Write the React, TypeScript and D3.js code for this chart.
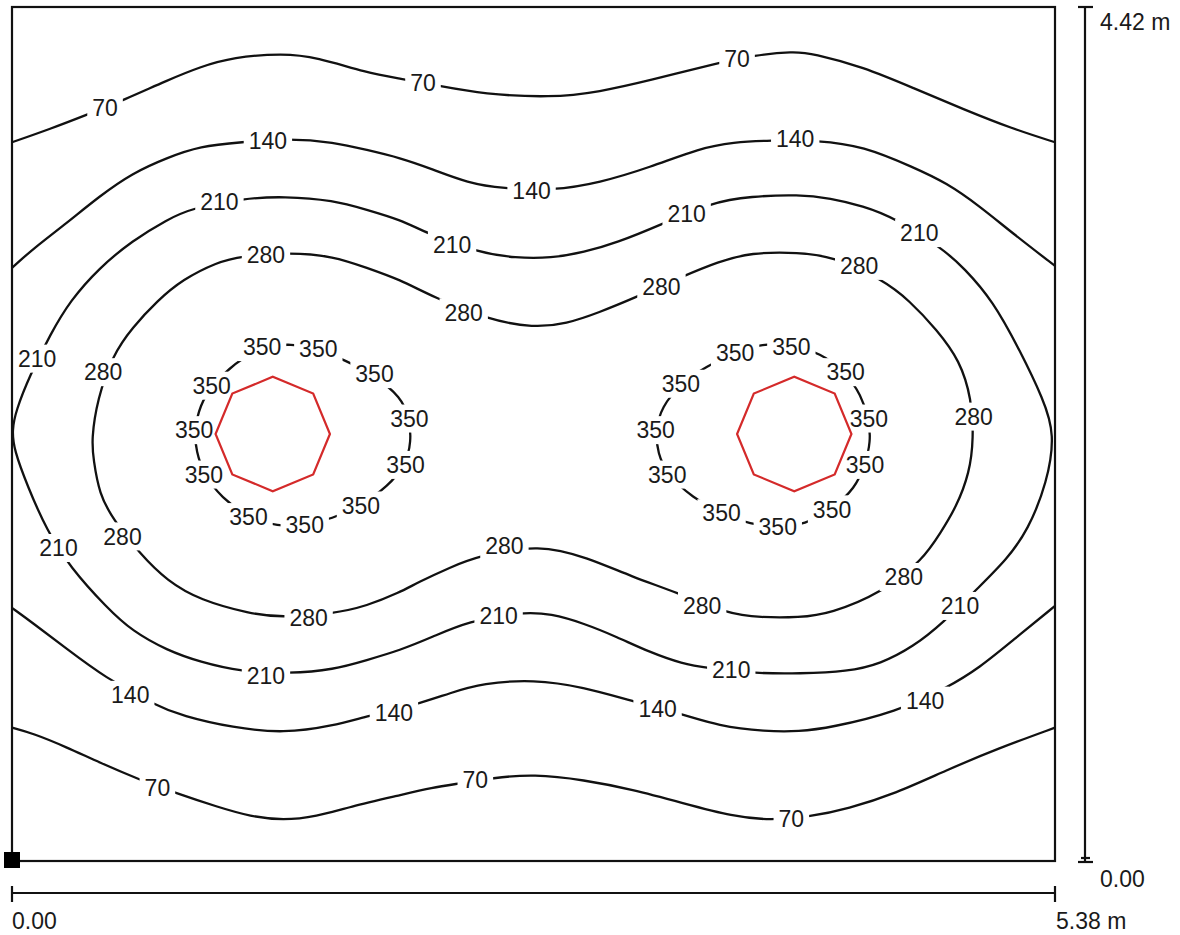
import React from "react";
import * as d3 from "d3";

type Pt = [number, number];

// Room dimensions (m)
const ROOM_WIDTH_M = 5.38;
const ROOM_DEPTH_M = 4.42;
const X_LABELS = ["0.00", "5.38 m"];
const Y_LABELS = ["0.00", "4.42 m"];

// Isolux levels (lx)
const LEVELS = [70, 140, 210, 280, 350];

// Isolines, in metres (x from left wall, y from front wall)
const iso70Top: Pt[] = [
  [0, 3.72], [0.2, 3.79], [0.38, 3.86], [0.58, 3.94], [0.8, 4.04], [0.97, 4.11], [1.14, 4.16],
  [1.4, 4.18], [1.57, 4.16], [1.83, 4.08], [2.0, 4.05], [2.21, 4.01], [2.43, 3.97], [2.78, 3.95],
  [3.03, 3.98], [3.29, 4.04], [3.64, 4.13], [3.83, 4.17], [4.03, 4.19], [4.13, 4.18], [4.39, 4.11],
  [4.65, 4.0], [4.91, 3.89], [5.16, 3.79], [5.38, 3.72],
];
const iso70Bottom: Pt[] = [
  [0, 0.69], [0.11, 0.66], [0.28, 0.59], [0.45, 0.51], [0.66, 0.42], [0.85, 0.35], [1.06, 0.28],
  [1.23, 0.23], [1.4, 0.21], [1.57, 0.23], [1.74, 0.28], [2.0, 0.34], [2.17, 0.38], [2.3, 0.4],
  [2.48, 0.43], [2.69, 0.45], [2.95, 0.42], [3.2, 0.37], [3.46, 0.3], [3.72, 0.23], [3.91, 0.21],
  [4.12, 0.23], [4.31, 0.27], [4.56, 0.35], [4.82, 0.47], [5.08, 0.58], [5.38, 0.69],
];
const iso140Top: Pt[] = [
  [0, 3.07], [0.11, 3.17], [0.28, 3.3], [0.45, 3.44], [0.62, 3.56], [0.8, 3.64], [0.97, 3.7],
  [1.18, 3.72], [1.43, 3.74], [1.66, 3.72], [1.83, 3.68], [2.0, 3.64], [2.17, 3.58], [2.35, 3.51],
  [2.53, 3.48], [2.79, 3.47], [3.03, 3.51], [3.29, 3.59], [3.55, 3.69], [3.72, 3.72], [3.91, 3.73],
  [4.16, 3.73], [4.39, 3.7], [4.65, 3.59], [4.82, 3.51], [4.99, 3.39], [5.16, 3.25], [5.38, 3.08],
];
const iso140Bottom: Pt[] = [
  [0, 1.31], [0.11, 1.23], [0.28, 1.1], [0.48, 0.95], [0.73, 0.81], [0.88, 0.75], [1.14, 0.69],
  [1.4, 0.66], [1.66, 0.7], [1.83, 0.75], [2.09, 0.81], [2.26, 0.87], [2.43, 0.92], [2.69, 0.94],
  [2.95, 0.9], [3.19, 0.83], [3.46, 0.76], [3.64, 0.7], [3.89, 0.67], [4.06, 0.67], [4.22, 0.69],
  [4.56, 0.77], [4.83, 0.9], [4.99, 1.0], [5.16, 1.14], [5.38, 1.32],
];
const iso210: Pt[] = [
  [0, 2.23], [0.02, 2.33], [0.09, 2.51], [0.2, 2.73], [0.3, 2.9], [0.45, 3.07], [0.62, 3.21],
  [0.8, 3.32], [0.93, 3.38], [1.2, 3.43], [1.4, 3.44], [1.66, 3.42], [1.83, 3.37], [2.0, 3.32],
  [2.14, 3.25], [2.4, 3.15], [2.6, 3.12], [2.78, 3.12], [2.95, 3.15], [3.12, 3.2], [3.34, 3.29],
  [3.61, 3.41], [3.81, 3.44], [4.06, 3.45], [4.22, 3.43], [4.39, 3.39], [4.55, 3.33], [4.8, 3.17],
  [4.91, 3.07], [5.06, 2.9], [5.2, 2.64], [5.32, 2.39], [5.38, 2.21], [5.34, 1.96], [5.24, 1.71],
  [5.13, 1.56], [4.99, 1.42], [4.8, 1.23], [4.65, 1.11], [4.48, 1.02], [4.31, 0.98], [4.06, 0.97],
  [3.84, 0.97], [3.58, 1.0], [3.46, 1.02], [3.29, 1.08], [3.12, 1.16], [2.95, 1.23], [2.78, 1.28],
  [2.63, 1.29], [2.35, 1.24], [2.17, 1.16], [2.0, 1.09], [1.83, 1.04], [1.66, 0.99], [1.43, 0.97],
  [1.18, 0.98], [0.97, 1.03], [0.8, 1.09], [0.62, 1.19], [0.49, 1.31], [0.3, 1.52], [0.18, 1.71],
  [0.08, 1.94], [0.01, 2.13],
];
const iso280: Pt[] = [
  [0.41, 2.18], [0.44, 2.39], [0.52, 2.62], [0.62, 2.76], [0.75, 2.9], [0.88, 3.01], [1.06, 3.1],
  [1.18, 3.13], [1.43, 3.15], [1.66, 3.13], [1.83, 3.07], [2.0, 3.01], [2.17, 2.92], [2.46, 2.8],
  [2.69, 2.76], [2.86, 2.78], [3.03, 2.84], [3.2, 2.91], [3.47, 3.03], [3.64, 3.1], [3.81, 3.15],
  [4.06, 3.15], [4.23, 3.13], [4.49, 3.01], [4.63, 2.9], [4.77, 2.75], [4.89, 2.59], [4.95, 2.39],
  [4.96, 2.19], [4.94, 2.01], [4.87, 1.83], [4.79, 1.7], [4.7, 1.56], [4.49, 1.39], [4.22, 1.28],
  [4.06, 1.26], [3.86, 1.26], [3.69, 1.28], [3.43, 1.39], [3.2, 1.47], [2.97, 1.57], [2.72, 1.64],
  [2.41, 1.58], [2.26, 1.52], [2.09, 1.44], [2.0, 1.39], [1.83, 1.32], [1.66, 1.28], [1.38, 1.26],
  [1.23, 1.28], [0.97, 1.35], [0.8, 1.45], [0.66, 1.59], [0.52, 1.77], [0.45, 1.9], [0.42, 2.08],
];
const iso350Left: Pt[] = [
  [0.94, 2.23], [0.97, 2.36], [1.03, 2.46], [1.15, 2.58], [1.29, 2.66], [1.44, 2.68], [1.58, 2.65],
  [1.72, 2.59], [1.86, 2.52], [2.01, 2.4], [2.05, 2.29], [2.06, 2.17], [2.03, 2.05], [1.94, 1.94],
  [1.8, 1.84], [1.65, 1.77], [1.51, 1.74], [1.37, 1.73], [1.22, 1.78], [1.08, 1.88], [0.99, 2.0],
  [0.95, 2.12],
];
const iso350Right: Pt[] = [
  [3.32, 2.23], [3.35, 2.35], [3.45, 2.47], [3.58, 2.56], [3.73, 2.63], [3.87, 2.68], [4.02, 2.67],
  [4.17, 2.63], [4.3, 2.53], [4.38, 2.41], [4.42, 2.29], [4.43, 2.17], [4.4, 2.05], [4.35, 1.93],
  [4.23, 1.82], [4.09, 1.74], [3.95, 1.73], [3.81, 1.74], [3.66, 1.8], [3.51, 1.88], [3.38, 2.0],
  [3.33, 2.11],
];

// Label anchor points (m)
const labels70: Pt[] = [[0.48, 3.9], [2.12, 4.03], [3.74, 4.15], [0.75, 0.38], [2.39, 0.42], [4.02, 0.22]];
const labels140: Pt[] = [[1.32, 3.73], [2.68, 3.47], [4.04, 3.74], [0.61, 0.86], [1.97, 0.77], [3.33, 0.79], [4.71, 0.83]];
const labels210: Pt[] = [
  [1.07, 3.41], [2.27, 3.19], [3.48, 3.35], [4.68, 3.25], [0.13, 2.6], [0.24, 1.62],
  [1.31, 0.96], [2.51, 1.27], [3.71, 0.99], [4.89, 1.32],
];
const labels280: Pt[] = [
  [0.47, 2.53], [1.31, 3.14], [2.33, 2.84], [3.35, 2.97], [4.37, 3.08], [4.96, 2.3],
  [4.6, 1.47], [3.56, 1.32], [2.54, 1.63], [1.53, 1.26], [0.57, 1.68],
];
const labels350: Pt[] = [
  [1.29, 2.66], [1.58, 2.65], [1.87, 2.52], [2.05, 2.29], [2.03, 2.05], [1.8, 1.84],
  [1.51, 1.74], [1.22, 1.78], [0.99, 2.0], [0.94, 2.23], [1.03, 2.46],
  [3.73, 2.63], [4.02, 2.66], [4.3, 2.53], [4.42, 2.29], [4.4, 2.05], [4.23, 1.82],
  [3.95, 1.73], [3.66, 1.8], [3.38, 2.0], [3.32, 2.23], [3.45, 2.47],
];

// Luminaire centres (m)
const LUMINAIRES: Pt[] = [[1.345, 2.21], [4.035, 2.21]];
const LUMINAIRE_RADIUS_M = 0.295;

const ISOLINES: { value: number; closed: boolean; points: Pt[] }[] = [
  { value: LEVELS[0], closed: false, points: iso70Top },
  { value: LEVELS[0], closed: false, points: iso70Bottom },
  { value: LEVELS[1], closed: false, points: iso140Top },
  { value: LEVELS[1], closed: false, points: iso140Bottom },
  { value: LEVELS[2], closed: true, points: iso210 },
  { value: LEVELS[3], closed: true, points: iso280 },
  { value: LEVELS[4], closed: true, points: iso350Left },
  { value: LEVELS[4], closed: true, points: iso350Right },
];

const LABELS: { value: number; points: Pt[] }[] = [
  { value: LEVELS[0], points: labels70 },
  { value: LEVELS[1], points: labels140 },
  { value: LEVELS[2], points: labels210 },
  { value: LEVELS[3], points: labels280 },
  { value: LEVELS[4], points: labels350 },
];

const FONT = "'Liberation Sans', Arial, Helvetica, sans-serif";

export default function App() {
  const W = 1180;
  const H = 935;
  const x = d3.scaleLinear().domain([0, ROOM_WIDTH_M]).range([12, 1055]);
  const y = d3.scaleLinear().domain([0, ROOM_DEPTH_M]).range([861, 7]);

  const openLine = d3
    .line<Pt>()
    .x((d) => x(d[0]))
    .y((d) => y(d[1]))
    .curve(d3.curveBasis);
  const closedLine = d3
    .line<Pt>()
    .x((d) => x(d[0]))
    .y((d) => y(d[1]))
    .curve(d3.curveBasisClosed);

  const fs = 23;
  const digitW = 0.556 * fs;
  const padX = 5;
  const halfH = 14;

  const flatLabels = LABELS.flatMap((g) =>
    g.points.map((p) => ({ value: g.value, px: x(p[0]), py: y(p[1]) }))
  );

  const rPx = x(LUMINAIRE_RADIUS_M) - x(0);
  const octagon = (c: Pt) => {
    const cx = x(c[0]);
    const cy = y(c[1]);
    const pts = d3.range(8).map((k) => {
      const a = (k * Math.PI) / 4;
      return [cx + rPx * Math.cos(a), cy + rPx * Math.sin(a)] as [number, number];
    });
    return "M" + pts.map((p) => p.join(",")).join("L") + "Z";
  };

  const x0 = x(0);
  const x1 = x(ROOM_WIDTH_M);
  const y0 = y(0);
  const y1 = y(ROOM_DEPTH_M);
  const dimY = 893;
  const dimX = 1085;

  return (
    <svg
      width={W}
      height={H}
      viewBox={`0 0 ${W} ${H}`}
      style={{ position: "absolute", left: 0, top: 0, background: "#fff", display: "block" }}
      fontFamily={FONT}
    >
      <defs>
        <mask id="labelMask" maskUnits="userSpaceOnUse" x={0} y={0} width={W} height={H}>
          <rect x={0} y={0} width={W} height={H} fill="#fff" />
          {flatLabels.map((l, i) => {
            const tw = String(l.value).length * digitW;
            return (
              <rect
                key={i}
                x={l.px - tw / 2 - padX}
                y={l.py - halfH}
                width={tw + 2 * padX}
                height={halfH * 2}
                fill="#000"
              />
            );
          })}
        </mask>
      </defs>
      <rect x={0} y={0} width={W} height={H} fill="#fff" />

      {/* room outline */}
      <rect x={x0} y={y1} width={x1 - x0} height={y0 - y1} fill="none" stroke="#111" strokeWidth={2.2} />

      {/* isolines */}
      <g mask="url(#labelMask)" fill="none" stroke="#111" strokeWidth={2.3} strokeLinejoin="round">
        {ISOLINES.map((l, i) => (
          <path key={i} d={(l.closed ? closedLine : openLine)(l.points) || ""} />
        ))}
      </g>

      {/* isoline labels */}
      <g fontSize={fs} fill="#1a1a1a" textAnchor="middle">
        {flatLabels.map((l, i) => (
          <text key={i} x={l.px} y={l.py} dy="0.36em">
            {l.value}
          </text>
        ))}
      </g>

      {/* luminaires */}
      {LUMINAIRES.map((c, i) => (
        <path key={i} d={octagon(c)} fill="none" stroke="#d42a2a" strokeWidth={2.2} strokeLinejoin="miter" />
      ))}

      {/* origin marker */}
      <rect x={x0 - 8} y={y0 - 9} width={16} height={16} fill="#000" />

      {/* horizontal dimension */}
      <g stroke="#111" strokeWidth={2.2}>
        <line x1={x0} x2={x1} y1={dimY} y2={dimY} />
        <line x1={x0} x2={x0} y1={dimY - 7} y2={dimY + 9} />
        <line x1={x1} x2={x1} y1={dimY - 7} y2={dimY + 9} />
      </g>
      <g fontSize={fs} fill="#1a1a1a">
        <text x={x0} y={929}>{X_LABELS[0]}</text>
        <text x={x1 + 1} y={929}>{X_LABELS[1]}</text>
      </g>

      {/* vertical dimension */}
      <g stroke="#111" strokeWidth={2.2}>
        <line x1={dimX} x2={dimX} y1={y1} y2={y0 + 1} />
        <line x1={dimX - 7} x2={dimX + 8} y1={y1} y2={y1} />
        <line x1={dimX - 7} x2={dimX + 8} y1={y0 + 1} y2={y0 + 1} />
        <line x1={dimX - 4} x2={dimX + 5} y1={y0 - 3} y2={y0 - 3} />
      </g>
      <g fontSize={fs} fill="#1a1a1a">
        <text x={1100} y={30}>{Y_LABELS[1]}</text>
        <text x={1100} y={887}>{Y_LABELS[0]}</text>
      </g>
    </svg>
  );
}
